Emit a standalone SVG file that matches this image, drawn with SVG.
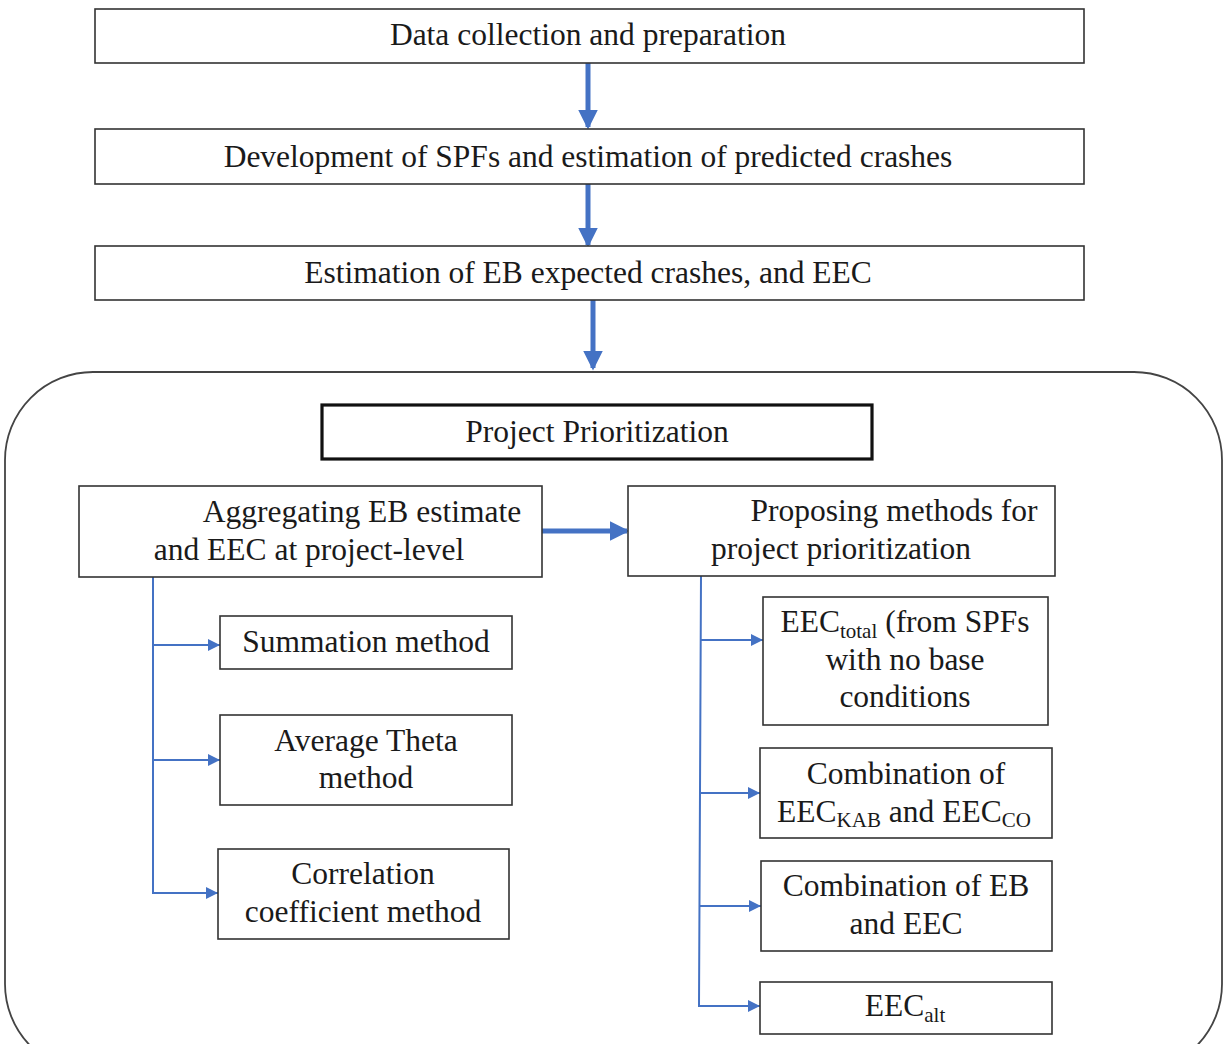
<svg xmlns="http://www.w3.org/2000/svg" width="1225" height="1044" viewBox="0 0 1225 1044">
<style>
.box{fill:#fff;stroke:#333;stroke-width:1.6}
.t{font-family:"Liberation Serif","Times New Roman",serif;font-size:31.5px;fill:#1a1a1a;text-anchor:middle}
.thick{stroke:#4472C4;stroke-width:5;fill:none}
.thin{stroke:#4472C4;stroke-width:2;fill:none}
</style>
<defs>
<marker id="big" markerWidth="4" markerHeight="4" refX="3.5" refY="2" orient="auto" markerUnits="strokeWidth"><path d="M0,0 L4,2 L0,4 Z" fill="#4472C4"/></marker>
<marker id="small" markerWidth="6" markerHeight="6" refX="6" refY="3" orient="auto" markerUnits="strokeWidth"><path d="M0,0 L6,3 L0,6 Z" fill="#4472C4"/></marker>
</defs>
<rect width="1225" height="1044" fill="#fff"/>
<g id="container"><rect x="5" y="372" width="1217" height="700" rx="88" ry="88" fill="none" stroke="#444" stroke-width="1.8"/></g>
<g id="connectors">
<line class="thick" x1="588" y1="63" x2="588" y2="127" marker-end="url(#big)"/>
<line class="thick" x1="588" y1="184" x2="588" y2="245" marker-end="url(#big)"/>
<line class="thick" x1="593" y1="300" x2="593" y2="368" marker-end="url(#big)"/>
<line class="thick" x1="542" y1="531" x2="627" y2="531" marker-end="url(#big)"/>
<polyline class="thin" points="153,577 153,893 218,893" marker-end="url(#small)"/>
<line class="thin" x1="153" y1="645" x2="220" y2="645" marker-end="url(#small)"/>
<line class="thin" x1="153" y1="760" x2="220" y2="760" marker-end="url(#small)"/>
<polyline class="thin" points="701,576 699,1006 760,1006" marker-end="url(#small)"/>
<line class="thin" x1="700" y1="640" x2="763" y2="640" marker-end="url(#small)"/>
<line class="thin" x1="700" y1="793" x2="760" y2="793" marker-end="url(#small)"/>
<line class="thin" x1="700" y1="906" x2="761" y2="906" marker-end="url(#small)"/>
</g>
<g id="n1"><rect class="box" x="95" y="9" width="989" height="54"/><text class="t" x="588" y="45">Data collection and preparation</text></g>
<g id="n2"><rect class="box" x="95" y="129" width="989" height="55"/><text class="t" x="588" y="167">Development of SPFs and estimation of predicted crashes</text></g>
<g id="n3"><rect class="box" x="95" y="246" width="989" height="54"/><text class="t" x="588" y="283">Estimation of EB expected crashes, and EEC</text></g>
<g id="n4"><rect x="322" y="405" width="550" height="54" fill="#fff" stroke="#111" stroke-width="3.2"/><text class="t" x="597" y="442">Project Prioritization</text></g>
<g id="n5"><rect class="box" x="79" y="486" width="463" height="91"/><text class="t" x="362" y="522">Aggregating EB estimate</text><text class="t" x="309" y="560">and EEC at project-level</text></g>
<g id="n6"><rect class="box" x="628" y="486" width="427" height="90"/><text class="t" x="894" y="521">Proposing methods for</text><text class="t" x="841" y="559">project prioritization</text></g>
<g id="n7"><rect class="box" x="220" y="616" width="292" height="53"/><text class="t" x="366" y="652">Summation method</text></g>
<g id="n8"><rect class="box" x="220" y="715" width="292" height="90"/><text class="t" x="366" y="751">Average Theta</text><text class="t" x="366" y="788">method</text></g>
<g id="n9"><rect class="box" x="218" y="849" width="291" height="90"/><text class="t" x="363" y="884">Correlation</text><text class="t" x="363" y="922">coefficient method</text></g>
<g id="n10"><rect class="box" x="763" y="597" width="285" height="128"/><text class="t" x="905" y="632">EEC<tspan font-size="21" dy="6">total</tspan><tspan dy="-6"> (from SPFs</tspan></text><text class="t" x="905" y="670">with no base</text><text class="t" x="905" y="707">conditions</text></g>
<g id="n11"><rect class="box" x="760" y="748" width="292" height="90"/><text class="t" x="906" y="784">Combination of</text><text class="t" x="904" y="822">EEC<tspan font-size="21" dy="5">KAB</tspan><tspan dy="-5"> and EEC</tspan><tspan font-size="21" dy="5">CO</tspan></text></g>
<g id="n12"><rect class="box" x="761" y="861" width="291" height="90"/><text class="t" x="906" y="896">Combination of EB</text><text class="t" x="906" y="934">and EEC</text></g>
<g id="n13"><rect class="box" x="760" y="982" width="292" height="52"/><text class="t" x="905" y="1016">EEC<tspan font-size="21" dy="6">alt</tspan></text></g>
</svg>
